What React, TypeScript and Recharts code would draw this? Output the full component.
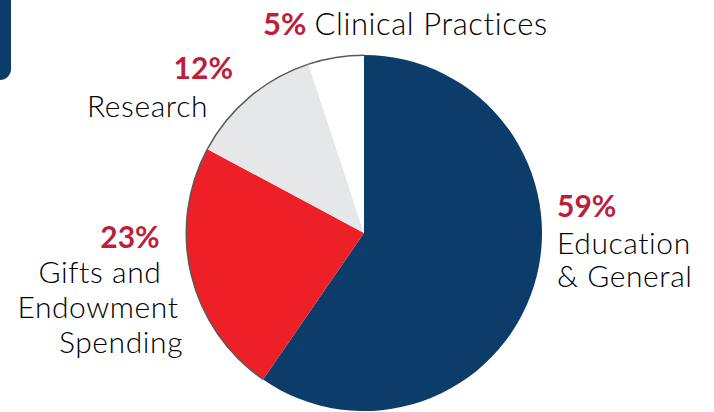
import { Cell, Pie, PieChart } from "recharts";

const categories = ["Education & General", "Gifts and Endowment Spending", "Research", "Clinical Practices"];
const shares = [59, 23, 12, 5];
const labelLines = [
  ["Education", "& General"],
  ["Gifts and", "Endowment", "Spending"],
  ["Research"],
  [],
];

const FILLS = ["#0c3c6a", "#ed1f27", "#e6e7e8", "#ffffff"];
const OUTLINE = ["none", "#5a5a5a", "#5a5a5a", "#5a5a5a"];
const PCT_COLOR = "#bd1f3a";
const TEXT_COLOR = "#000000";
const FONT = "Lato, 'Open Sans', sans-serif";

// where each label block goes: percent line, then name lines
type LabelLayout = { anchor: "start" | "middle" | "end"; pct: [number, number]; lines: [number, number][] };
const LAYOUT: LabelLayout[] = [
  { anchor: "start", pct: [557, 217], lines: [[557, 254], [557, 287]] },
  { anchor: "middle", pct: [130, 248], lines: [[100, 283], [98, 318], [121, 353]] },
  { anchor: "end", pct: [233, 79], lines: [[208, 117]] },
  { anchor: "start", pct: [263, 35], lines: [] },
];

const data = categories.map((name, i) => ({ name, value: shares[i] }));

function renderLabel(props: any) {
  const i = props.index as number;
  const layout = LAYOUT[i];
  if (i === 3) {
    return (
      <text key={`lbl-${i}`} x={layout.pct[0]} y={layout.pct[1]} fontFamily={FONT} fontSize={31}>
        <tspan fill={PCT_COLOR} fontWeight={700}>{`${shares[i]}%`}</tspan>
        <tspan fill={TEXT_COLOR} fontWeight={300} dx={8} letterSpacing={0.6}>{categories[i]}</tspan>
      </text>
    );
  }
  return (
    <g key={`lbl-${i}`}>
      <text
        x={layout.pct[0]}
        y={layout.pct[1]}
        textAnchor={layout.anchor}
        fill={PCT_COLOR}
        fontFamily={FONT}
        fontWeight={700}
        fontSize={30}
      >
        {`${shares[i]}%`}
      </text>
      {labelLines[i].map((line, j) => (
        <text
          key={line}
          x={layout.lines[j][0]}
          y={layout.lines[j][1]}
          textAnchor={layout.anchor}
          fill={TEXT_COLOR}
          fontFamily={FONT}
          fontWeight={300}
          fontSize={30}
          letterSpacing={0.6}
        >
          {line}
        </text>
      ))}
    </g>
  );
}

export default function App() {
  return (
    <div style={{ position: "absolute", left: 0, top: 0, width: 714, height: 412, background: "#fff", overflow: "hidden" }}>
      <div
        style={{
          position: "absolute",
          left: -20,
          top: -20,
          width: 31,
          height: 100,
          background: "#0c3c6a",
          borderRadius: 11,
        }}
      />
      <PieChart width={714} height={412} margin={{ top: 0, right: 0, bottom: 0, left: 0 }}>
        <Pie
          data={data}
          dataKey="value"
          nameKey="name"
          cx={364}
          cy={233}
          outerRadius={178}
          startAngle={90}
          endAngle={-270}
          stroke="none"
          label={renderLabel}
          labelLine={false}
          isAnimationActive={false}
        >
          {data.map((d, i) => (
            <Cell key={d.name} fill={FILLS[i]} />
          ))}
        </Pie>
        <Pie
          data={data}
          dataKey="value"
          nameKey="name"
          cx={364}
          cy={233}
          innerRadius={177}
          outerRadius={178.5}
          startAngle={90}
          endAngle={-270}
          stroke="none"
          isAnimationActive={false}
        >
          {data.map((d, i) => (
            <Cell key={d.name} fill={OUTLINE[i]} />
          ))}
        </Pie>
      </PieChart>
    </div>
  );
}
